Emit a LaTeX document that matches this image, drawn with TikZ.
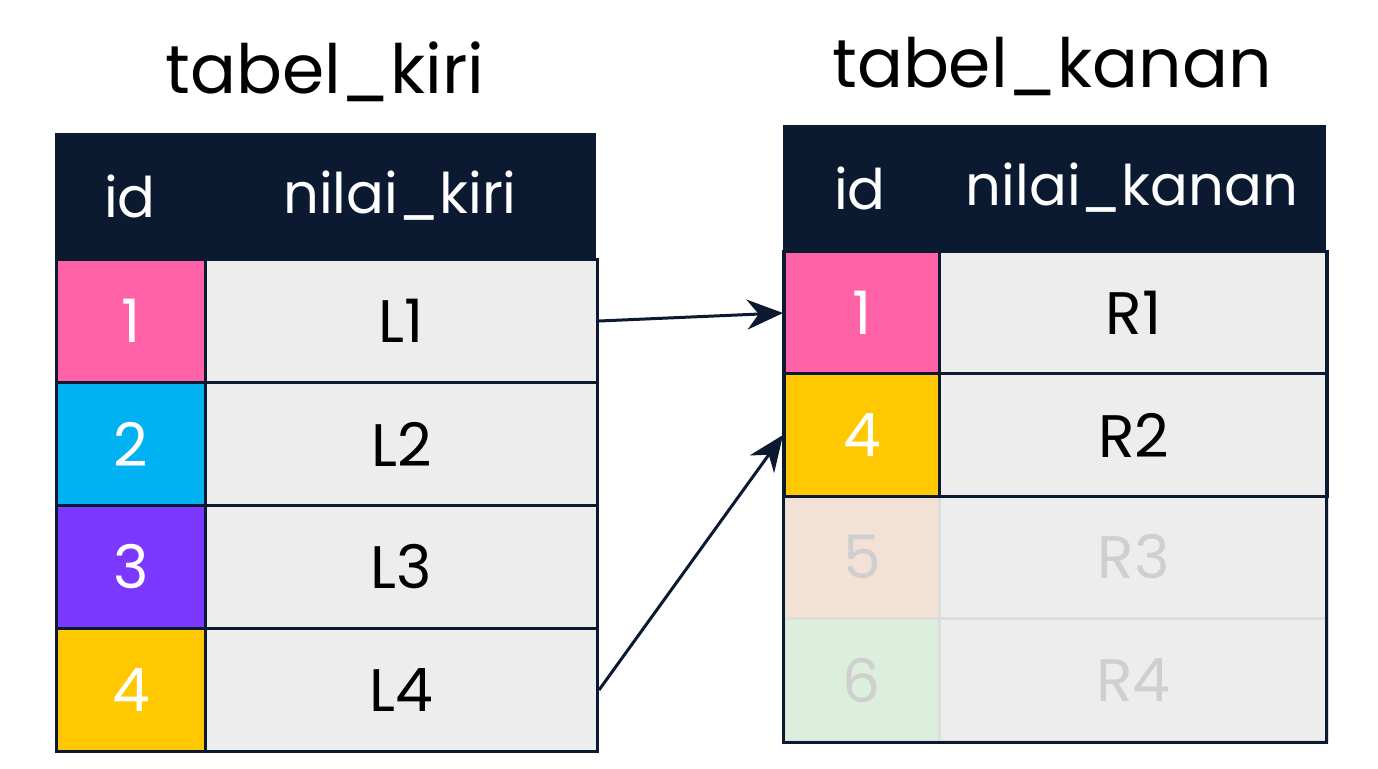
\documentclass[tikz,border=0pt]{standalone}
\usepackage{fontspec}
\setmainfont{Poppins}
\usetikzlibrary{arrows.meta}
\definecolor{navy}{HTML}{0B1A30}
\definecolor{cpink}{HTML}{FF62A6}
\definecolor{ccyan}{HTML}{00B2F2}
\definecolor{cpurple}{HTML}{7B38FF}
\definecolor{cyellow}{HTML}{FFC800}
\definecolor{cgray}{HTML}{EDEDED}
\definecolor{cpeach}{HTML}{F3E1D6}
\definecolor{cgreen}{HTML}{DCEFDD}
\definecolor{fadetxt}{HTML}{CFCFCF}
\begin{document}
\begin{tikzpicture}[x=1pt,y=-1pt,
  cell/.style={draw=navy,line width=3pt,minimum width=#1,minimum height=123pt,inner sep=0,font=\fontsize{60}{60}\selectfont},
  hdr/.style={fill=navy,text=white,inner sep=0,font=\fontsize{56}{56}\selectfont},
  title/.style={font=\fontsize{68}{68}\selectfont,text=black},
  arr/.style={draw=navy,line width=3pt,-{Stealth[length=36pt,width=30pt]}}]
\useasboundingbox[fill=white] (0,0) rectangle (1378,768);
% left table
\node[title] (tl) at (325,72) {tabel\_kiri};
\fill[navy] (55,133) rectangle (596,258);
\node[hdr] (hl1) at (130,196) {id};
\node[hdr] (hl2) at (400,196) {nilai\_kiri};
\foreach \i/\c/\t in {0/cpink/1,1/ccyan/2,2/cpurple/3,3/cyellow/4}{
  \node[cell=149pt,fill=\c,text=white,anchor=north west] (li\i) at (55,258+123*\i) {\t};
  \node[cell=392pt,fill=cgray,text=black,anchor=north west] (lv\i) at (204,258+123*\i) {L\the\numexpr\i+1\relax};
}
% right table
\node[title] (tr) at (1052,66) {tabel\_kanan};
\fill[navy] (783,125) rectangle (1326,250);
\node[hdr] (hr1) at (860,188) {id};
\node[hdr] (hr2) at (1132,188) {nilai\_kanan};
\node[cell=155pt,fill=cgray,fill=cpeach,draw=fadetxt!70,text=fadetxt,anchor=north west] (ri2) at (783,494) {5};
\node[cell=388pt,fill=cgray,draw=fadetxt!70,text=fadetxt,anchor=north west] (rv2) at (938,494) {R3};
\node[cell=155pt,fill=cgreen,draw=fadetxt!70,text=fadetxt,anchor=north west] (ri3) at (783,617) {6};
\node[cell=388pt,fill=cgray,draw=fadetxt!70,text=fadetxt,anchor=north west] (rv3) at (938,617) {R4};
\node[cell=155pt,fill=cpink,text=white,anchor=north west] (ri0) at (783,250) {1};
\node[cell=388pt,fill=cgray,text=black,anchor=north west] (rv0) at (938,250) {R1};
\node[cell=155pt,fill=cyellow,text=white,anchor=north west] (ri1) at (783,372) {4};
\node[cell=388pt,fill=cgray,text=black,anchor=north west] (rv1) at (938,372) {R2};
\draw[navy,line width=3pt] (783,250) -- (783,742) -- (1326,742) -- (1326,250);
% arrows
\draw[arr] (lv0.east) -- (ri0.west);
\draw[arr] (lv3.east) -- (ri1.west);
\end{tikzpicture}
\end{document}
